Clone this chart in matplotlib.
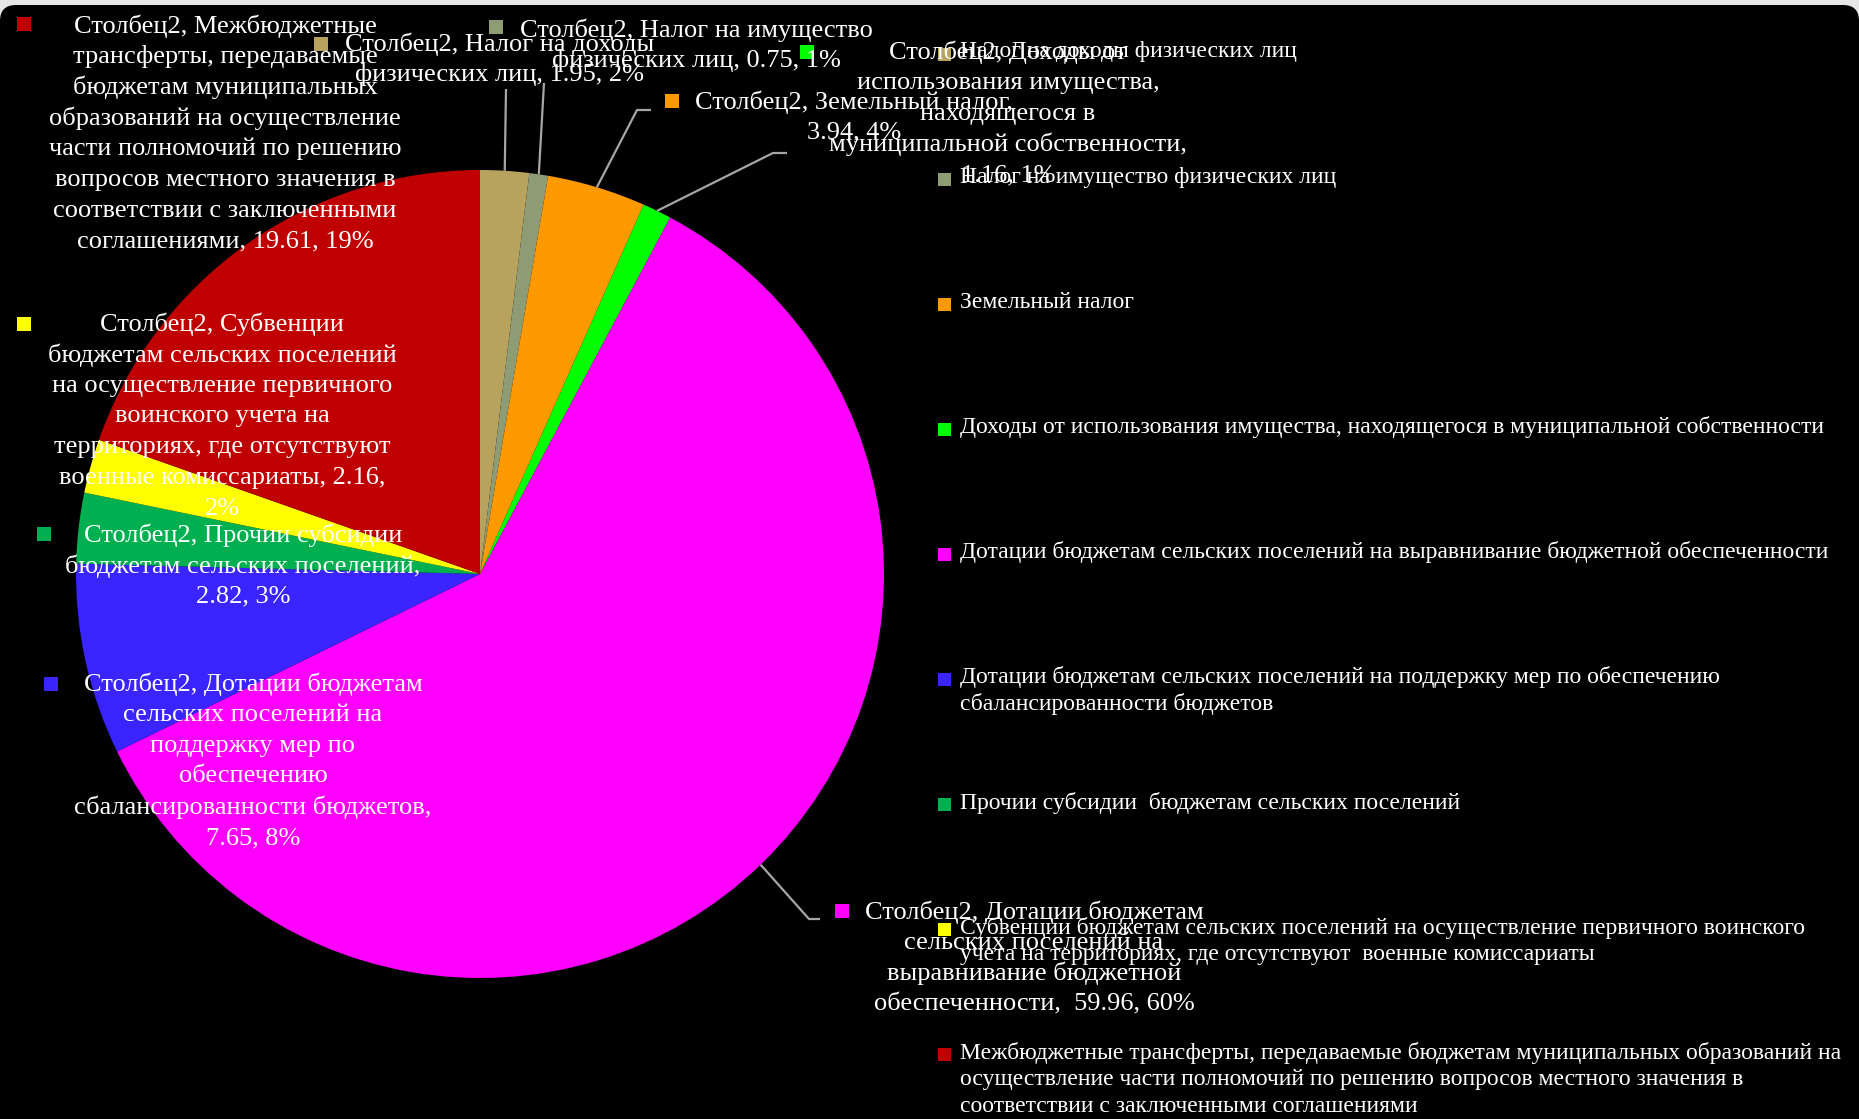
import numpy as np
import matplotlib
matplotlib.use("Agg")
import matplotlib.pyplot as plt
from matplotlib.patches import FancyBboxPatch, Rectangle

plt.rcParams['font.family'] = ['Liberation Serif', 'DejaVu Sans']

# ---- data ----
categories = [
    "Налог на доходы физических лиц",
    "Налог на имущество физических лиц",
    "Земельный налог",
    "Доходы от использования имущества, находящегося в муниципальной собственности",
    "Дотации бюджетам сельских поселений на выравнивание бюджетной обеспеченности",
    "Дотации бюджетам сельских поселений на поддержку мер по обеспечению сбалансированности бюджетов",
    "Прочии субсидии бюджетам сельских поселений",
    "Субвенции бюджетам сельских поселений на осуществление первичного воинского учета на территориях, где отсутствуют  военные комиссариаты",
    "Межбюджетные трансферты, передаваемые бюджетам муниципальных образований на осуществление части полномочий по решению вопросов местного значения в соответствии с заключенными соглашениями",
]
values = [1.95, 0.75, 3.94, 1.16, 59.96, 7.65, 2.82, 2.16, 19.61]
percents = ["2%", "1%", "4%", "1%", "60%", "8%", "3%", "2%", "19%"]
series_name = "Столбец2"
colors = ["#B8A35E", "#8E9C76", "#FF9900", "#00FF00", "#FF00FF",
          "#3A24FF", "#00B050", "#FFFF00", "#C00000"]

# data label lines (wrapped as in the reference)
label_lines = [
    ["Столбец2, Налог на доходы", "физических лиц, 1.95, 2%"],
    ["Столбец2, Налог на имущество", "физических лиц, 0.75, 1%"],
    ["Столбец2, Земельный налог,", "3.94, 4%"],
    ["Столбец2, Доходы от", "использования имущества,", "находящегося в",
     "муниципальной собственности,", "1.16, 1%"],
    ["Столбец2, Дотации бюджетам", "сельских поселений на", "выравнивание бюджетной",
     "обеспеченности,  59.96, 60%"],
    ["Столбец2, Дотации бюджетам", "сельских поселений на", "поддержку мер по",
     "обеспечению", "сбалансированности бюджетов,", "7.65, 8%"],
    ["Столбец2, Прочии субсидии", "бюджетам сельских поселений,", "2.82, 3%"],
    ["Столбец2, Субвенции", "бюджетам сельских поселений", "на осуществление первичного",
     "воинского учета на", "территориях, где отсутствуют", "военные комиссариаты, 2.16,", "2%"],
    ["Столбец2, Межбюджетные", "трансферты, передаваемые", "бюджетам муниципальных",
     "образований на осуществление", "части полномочий по решению",
     "вопросов местного значения в", "соответствии с заключенными",
     "соглашениями, 19.61, 19%"],
]

legend_lines = [
    ["Налог на доходы физических лиц"],
    ["Налог на имущество физических лиц"],
    ["Земельный налог"],
    ["Доходы от использования имущества, находящегося в муниципальной собственности"],
    ["Дотации бюджетам сельских поселений на выравнивание бюджетной обеспеченности"],
    ["Дотации бюджетам сельских поселений на поддержку мер по обеспечению",
     "сбалансированности бюджетов"],
    ["Прочии субсидии  бюджетам сельских поселений"],
    ["Субвенции бюджетам сельских поселений на осуществление первичного воинского",
     "учета на территориях, где отсутствуют  военные комиссариаты"],
    ["Межбюджетные трансферты, передаваемые бюджетам муниципальных образований на",
     "осуществление части полномочий по решению вопросов местного значения в",
     "соответствии с заключенными соглашениями"],
]

# ---- layout (pixels) ----
W, H = 1859, 1119
CX, CY, R = 480, 574, 404
label_pos = [  # (center x, first line y, marker x, marker y)
    (500, 44, 321, 44),
    (696, 30, 496, 27),
    (854, 102, 672, 101),
    (1008, 52, 807, 52),
    (1034, 912, 842, 911),
    (253, 684, 51, 684),
    (243, 535, 44, 534),
    (222, 324, 24, 324),
    (225, 26, 24, 24),
]
leader_paths = {  # elbow and end points of leader lines
    0: [(506, 89)],
    1: [(544, 83)],
    2: [(637, 110), (651, 110)],
    3: [(773, 153), (787, 153)],
    4: [(809, 919), (820, 919)],
}
LBL_SP = 30.8
LEG_X, LEG_TX = 945, 960
LEG_Y0, LEG_STEP, LEG_SP = 52, 125.1, 26.8

fig = plt.figure(figsize=(W / 100, H / 100), dpi=100)
fig.patch.set_facecolor("#E6E6E6")

bg = fig.add_axes([0, 0, 1, 1])
bg.set_xlim(0, W)
bg.set_ylim(H, 0)
bg.axis("off")
bg.add_patch(FancyBboxPatch((0, 5), W, H + 40, boxstyle="round,pad=0,rounding_size=16",
                            facecolor="black", edgecolor="none"))

pie_ax = fig.add_axes([(CX - R) / W, (H - CY - R) / H, 2 * R / W, 2 * R / H])
pie_ax.pie(values, colors=colors, startangle=90, counterclock=False,
           wedgeprops=dict(linewidth=0))
pie_ax.set_xlim(-1, 1)
pie_ax.set_ylim(-1, 1)
pie_ax.axis("off")

ov = fig.add_axes([0, 0, 1, 1])
ov.set_xlim(0, W)
ov.set_ylim(H, 0)
ov.axis("off")
ov.patch.set_alpha(0)

# leader lines start at the wedge mid-angle on the pie edge
total = sum(values)
cum = np.cumsum([0] + values)
for i, pts in leader_paths.items():
    mid = 90 - (cum[i] + values[i] / 2) / total * 360
    sx = CX + R * np.cos(np.radians(mid))
    sy = CY - R * np.sin(np.radians(mid))
    xs = [sx] + [p[0] for p in pts]
    ys = [sy] + [p[1] for p in pts]
    ov.plot(xs, ys, color="#A6A6A6", lw=1.6, solid_capstyle="butt")

MK = 14
for i, lines in enumerate(label_lines):
    cx, y0, mx, my = label_pos[i]
    ov.add_patch(Rectangle((mx - MK / 2, my - MK / 2), MK, MK, facecolor=colors[i],
                           edgecolor="none"))
    for j, ln in enumerate(lines):
        ov.text(cx, y0 + j * LBL_SP, ln, ha="center", va="center", color="white",
                fontsize=19)

LMK = 13
for i, lines in enumerate(legend_lines):
    y = LEG_Y0 + i * LEG_STEP
    ov.add_patch(Rectangle((LEG_X - LMK / 2, y - LMK / 2 + 2), LMK, LMK, facecolor=colors[i],
                           edgecolor="none"))
    for j, ln in enumerate(lines):
        ov.text(LEG_TX, y + j * LEG_SP, ln, ha="left", va="center", color="white",
                fontsize=17)

fig.savefig("out.png", dpi=100, facecolor=fig.get_facecolor())
